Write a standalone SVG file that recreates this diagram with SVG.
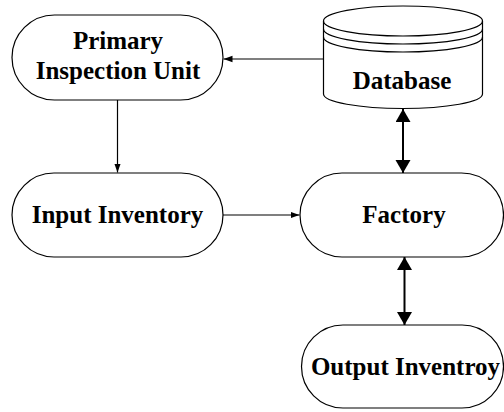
<svg xmlns="http://www.w3.org/2000/svg" width="504" height="412" viewBox="0 0 504 412">
<style>
.n{fill:#fff;stroke:#000;stroke-width:1.2}
.t{font-family:"Liberation Serif","Times New Roman",serif;font-weight:bold;font-size:25px;fill:#000;text-anchor:middle}
.c{fill:none;stroke:#000;stroke-width:1.2}
.c2{fill:none;stroke:#000;stroke-width:2}
</style>
<defs>
<marker id="sa" markerWidth="10" markerHeight="8" refX="9" refY="4" orient="auto" markerUnits="userSpaceOnUse">
<path d="M0,0.8 L9,4 L0,7.2 Z" fill="#000"/>
</marker>
<marker id="ba" markerWidth="16" markerHeight="16" refX="13" refY="7.5" orient="auto-start-reverse" markerUnits="userSpaceOnUse">
<path d="M0,0 L13,7.5 L0,15 Z" fill="#000"/>
</marker>
</defs>
<g id="connectors">
<line class="c" x1="324" y1="59" x2="223.5" y2="59" marker-end="url(#sa)"/>
<line class="c" x1="117.5" y1="100" x2="117.5" y2="172.5" marker-end="url(#sa)"/>
<line class="c" x1="223" y1="215" x2="299.5" y2="215" marker-end="url(#sa)"/>
<line class="c2" x1="403" y1="109" x2="403" y2="173" marker-start="url(#ba)" marker-end="url(#ba)"/>
<line class="c2" x1="404.5" y1="257" x2="404.5" y2="325" marker-start="url(#ba)" marker-end="url(#ba)"/>
</g>
<g id="primary">
<rect class="n" x="12" y="15" width="211" height="85" rx="42.5"/>
<text class="t" x="118" y="49.3">Primary</text>
<text class="t" x="118" y="79.3">Inspection Unit</text>
</g>
<g id="database">
<path class="n" d="M323.5,21 L323.5,94 A79.5,14.5 0 0 0 482.5,94 L482.5,21 A79.5,15 0 0 0 323.5,21 Z"/>
<path class="c" d="M323.5,21 A79.5,15 0 0 0 482.5,21"/>
<path class="c" d="M323.5,29 A79.5,15 0 0 0 482.5,29"/>
<path class="c" d="M323.5,37 A79.5,15 0 0 0 482.5,37"/>
<text class="t" x="402" y="89.3">Database</text>
</g>
<g id="input">
<rect class="n" x="12" y="173" width="211" height="84" rx="42"/>
<text class="t" x="117.5" y="223.3">Input Inventory</text>
</g>
<g id="factory">
<rect class="n" x="300" y="173" width="203.5" height="84" rx="42"/>
<text class="t" x="404" y="223.3">Factory</text>
</g>
<g id="output">
<rect class="n" x="301.5" y="325" width="202" height="83" rx="41.5"/>
<text class="t" x="405.5" y="375">Output Inventroy</text>
</g>
</svg>
